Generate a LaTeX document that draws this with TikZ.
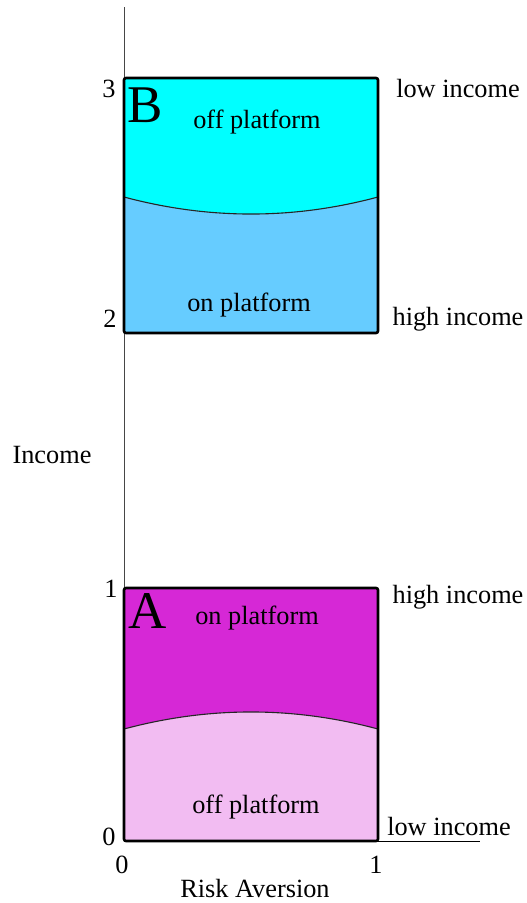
\documentclass[tikz,border=0pt]{standalone}
\usepackage{fontspec}
\setmainfont{Liberation Serif}
\definecolor{bcyan}{RGB}{0,255,255}
\definecolor{bblue}{RGB}{102,204,255}
\definecolor{amag}{RGB}{214,40,214}
\definecolor{apink}{RGB}{242,188,242}
\definecolor{axisgray}{RGB}{70,70,70}
\tikzset{
  lbl/.style={inner sep=0pt, anchor=base, font=\fontsize{26.3}{30}\selectfont},
  big/.style={inner sep=0pt, anchor=base, font=\fontsize{53}{60}\selectfont},
  boxline/.style={line width=2.6pt, rounded corners=2pt},
  divider/.style={line width=1.1pt, draw=black!85},
  axisline/.style={line width=1pt, draw=axisgray}
}
\begin{document}
\begin{tikzpicture}[x=1pt,y=-1pt]
\useasboundingbox (0,0) rectangle (527,903);
% coordinates
\coordinate (o) at (124,841);
\coordinate (ytop) at (124,7);
\coordinate (xend) at (480,841);
% box B
\fill[bcyan] (124,78) rectangle (378,333);
\fill[bblue] (124,197) .. controls (208.7,219.7) and (293.3,219.7) .. (378,197) -- (378,333) -- (124,333) -- cycle;
\draw[divider] (124,197) .. controls (208.7,219.7) and (293.3,219.7) .. (378,197);
% box A
\fill[amag] (124,588) rectangle (378,841);
\fill[apink] (124,729) .. controls (208.7,706.3) and (293.3,706.3) .. (378,729) -- (378,841) -- (124,841) -- cycle;
\draw[divider] (124,729) .. controls (208.7,706.3) and (293.3,706.3) .. (378,729);
% axes
\draw[axisline] (ytop) -- (o);
\draw[line width=1pt] (o) -- (xend);
% outlines
\draw[boxline] (124,78) rectangle (378,333);
\draw[boxline] (124,588) rectangle (378,841);
% labels
\node[big] (B) at (145,122) {B};
\node[big] (A) at (148,628) {A};
\node[lbl] (boff) at (257,128) {off platform};
\node[lbl] (bon) at (249,311) {on platform};
\node[lbl] (aon) at (257,624) {on platform};
\node[lbl] (aoff) at (256,813) {off platform};
\node[lbl] (y3) at (109,97) {3};
\node[lbl] (y2) at (110,327) {2};
\node[lbl] (y1) at (111,597) {1};
\node[lbl] (y0) at (109,845) {0};
\node[lbl] (x0) at (122,873) {0};
\node[lbl] (x1) at (376,873) {1};
\node[lbl] (xl) at (255,897) {Risk Aversion};
\node[lbl] (yl) at (52,463) {Income};
\node[lbl] (t1) at (458,97) {low income};
\node[lbl] (t2) at (458,325) {high income};
\node[lbl] (t3) at (458,603) {high income};
\node[lbl] (t4) at (449,835) {low income};
\end{tikzpicture}
\end{document}
